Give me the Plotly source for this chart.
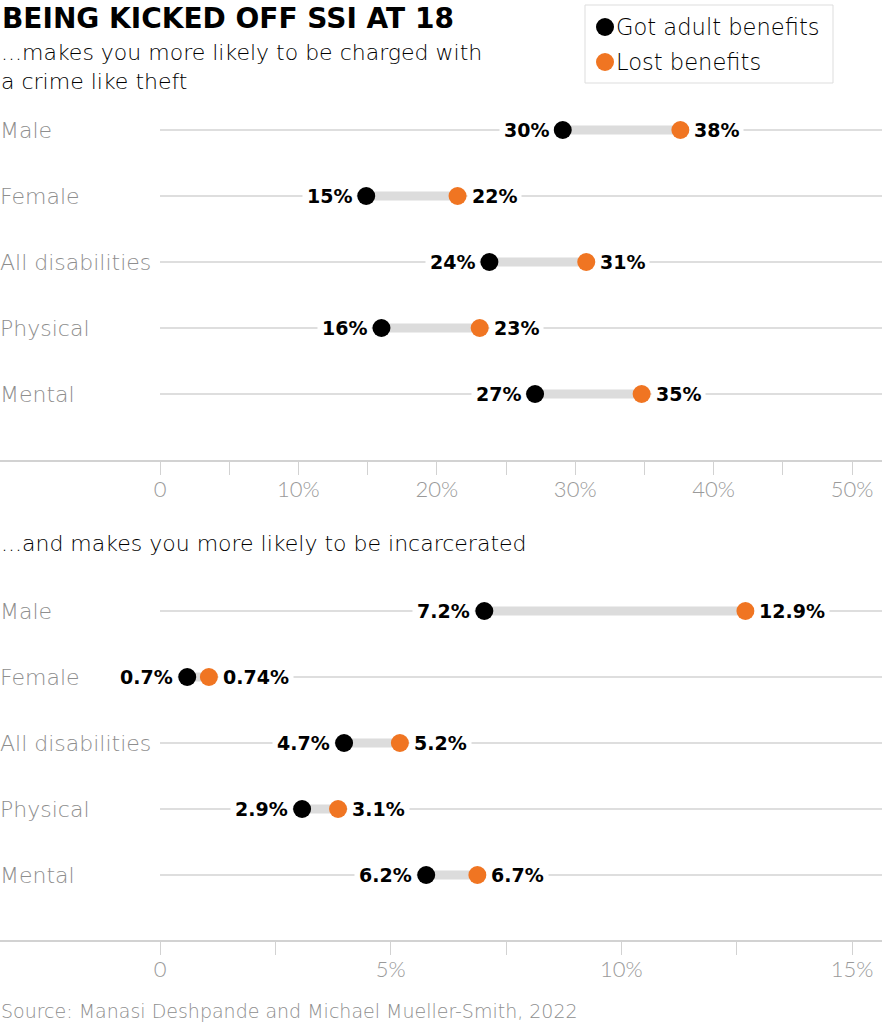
import plotly.graph_objects as go

# ---------------- data ----------------
categories = ["Male", "Female", "All disabilities", "Physical", "Mental"]

charged_got_pos = [29.1, 14.9, 23.8, 16.0, 27.1]
charged_lost_pos = [37.6, 21.5, 30.8, 23.1, 34.8]
charged_got_lbl = ["30%", "15%", "24%", "16%", "27%"]
charged_lost_lbl = ["38%", "22%", "31%", "23%", "35%"]

jail_got_pos = [7.03, 0.59, 3.99, 3.08, 5.77]
jail_lost_pos = [12.69, 1.06, 5.2, 3.86, 6.88]
jail_got_lbl = ["7.2%", "0.7%", "4.7%", "2.9%", "6.2%"]
jail_lost_lbl = ["12.9%", "0.74%", "5.2%", "3.1%", "6.7%"]

charged_tickvals = [0, 5, 10, 15, 20, 25, 30, 35, 40, 45, 50]
charged_ticktext = ["0", "", "10%", "", "20%", "", "30%", "", "40%", "", "50%"]
jail_tickvals = [0, 2.5, 5, 7.5, 10, 12.5, 15]
jail_ticktext = ["0", "", "5%", "", "10%", "", "15%"]

series_names = ["Got adult benefits", "Lost benefits"]

# ---------------- style ----------------
W, H = 882, 1024
ZERO_PX, MAX_PX = 160, 852
BLACK = "#000000"
ORANGE = "#F07522"
CONNECT = "#DCDCDC"
GRID = "#BDBDBD"
AXIS = "#D2D2D2"
GRAY_TXT = "#8E8E8E"
LIGHT = "DejaVu Sans"
LW = 200
ROW_SP = 66

def xrange_for(xmax):
    ppu = (MAX_PX - ZERO_PX) / xmax
    return [-ZERO_PX / ppu, xmax + (W - MAX_PX) / ppu]

def ypanel(first_row_px, top_px, bottom_px):
    dom = [1 - bottom_px / H, 1 - top_px / H]
    rng = [(bottom_px - first_row_px) / ROW_SP, (top_px - first_row_px) / ROW_SP]
    return dom, rng

fig = go.Figure()

panels = [
    dict(xa="x", ya="y", got=charged_got_pos, lost=charged_lost_pos,
         gl=charged_got_lbl, ll=charged_lost_lbl, xmax=50,
         tv=charged_tickvals, tt=charged_ticktext, first=130, top=98, bottom=460),
    dict(xa="x2", ya="y2", got=jail_got_pos, lost=jail_lost_pos,
         gl=jail_got_lbl, ll=jail_lost_lbl, xmax=15,
         tv=jail_tickvals, tt=jail_ticktext, first=611, top=579, bottom=940),
]

annotations = []
shapes = []
rows = list(range(len(categories)))
VAL_FONT = dict(family="DejaVu Sans", size=19, color=BLACK, weight=700)

for k, p in enumerate(panels):
    xr = xrange_for(p["xmax"])
    dom, yr = ypanel(p["first"], p["top"], p["bottom"])
    suffix = "" if k == 0 else "2"
    fig.layout["xaxis" + suffix] = dict(
        domain=[0, 1], range=xr, anchor="y" + suffix,
        tickvals=p["tv"], ticktext=p["tt"], ticks="outside", ticklen=13,
        tickwidth=1, tickcolor=AXIS, showline=True, linecolor=AXIS, linewidth=2,
        showgrid=False, zeroline=False, fixedrange=True, ticklabelstandoff=-4,
        tickfont=dict(family="Lato", size=22, color="#9A9A9A", weight=300),
    )
    fig.layout["yaxis" + suffix] = dict(
        domain=dom, range=yr, anchor="x" + suffix, visible=False,
        showgrid=False, zeroline=False, fixedrange=True,
    )
    # row gridlines
    for i in rows:
        shapes.append(dict(type="line", xref=p["xa"], yref=p["ya"], x0=0, x1=xr[1],
                           y0=i, y1=i, line=dict(color=GRID, width=1), layer="below"))
    # connectors
    cx, cy = [], []
    for i in rows:
        cx += [p["got"][i], p["lost"][i], None]
        cy += [i, i, None]
    fig.add_trace(go.Scatter(x=cx, y=cy, xaxis=p["xa"], yaxis=p["ya"], mode="lines",
                             line=dict(color=CONNECT, width=9), showlegend=False,
                             hoverinfo="skip"))
    fig.add_trace(go.Scatter(x=p["got"], y=rows, xaxis=p["xa"], yaxis=p["ya"],
                             mode="markers", marker=dict(color=BLACK, size=18),
                             name=series_names[0], showlegend=False))
    fig.add_trace(go.Scatter(x=p["lost"], y=rows, xaxis=p["xa"], yaxis=p["ya"],
                             mode="markers", marker=dict(color=ORANGE, size=18),
                             name=series_names[1], showlegend=False))
    for i in rows:
        annotations.append(dict(x=0, xref="paper", y=i, yref=p["ya"], text=categories[i],
                                xanchor="left", yanchor="middle", showarrow=False, xshift=-2,
                                font=dict(family=LIGHT, size=22, color=GRAY_TXT, weight=LW)))
        annotations.append(dict(x=p["got"][i], xref=p["xa"], y=i, yref=p["ya"],
                                text=p["gl"][i], xanchor="right", yanchor="middle",
                                xshift=-9, showarrow=False, bgcolor="white", borderpad=4,
                                font=VAL_FONT))
        annotations.append(dict(x=p["lost"][i], xref=p["xa"], y=i, yref=p["ya"],
                                text=p["ll"][i], xanchor="left", yanchor="middle",
                                xshift=9, showarrow=False, bgcolor="white", borderpad=4,
                                font=VAL_FONT))

# ---------------- legend (manual) ----------------
fig.layout["xaxis3"] = dict(domain=[0, 1], range=[0, W], visible=False, anchor="y3", fixedrange=True)
fig.layout["yaxis3"] = dict(domain=[0, 1], range=[H, 0], visible=False, anchor="x3", fixedrange=True)
leg_colors = [BLACK, ORANGE]
for j, nm in enumerate(series_names):
    yy = 27 + 35 * j
    fig.add_trace(go.Scatter(x=[605], y=[yy], xaxis="x3", yaxis="y3", mode="markers",
                             marker=dict(color=leg_colors[j], size=18), showlegend=False,
                             hoverinfo="skip"))
    annotations.append(dict(x=614, y=yy, xref="x3", yref="y3", text=nm, xanchor="left",
                            yanchor="middle", showarrow=False,
                            font=dict(family=LIGHT, size=22.6, color=BLACK, weight=LW)))
shapes.append(dict(type="rect", xref="x3", yref="y3", x0=585, x1=833, y0=5, y1=83,
                   line=dict(color="#DDDDDD", width=1), layer="below"))

# ---------------- titles ----------------
annotations.append(dict(x=0, y=18, xref="x3", yref="y3", text="BEING KICKED OFF SSI AT 18",
                        xanchor="left", yanchor="middle", showarrow=False,
                        font=dict(family="DejaVu Sans", size=28, color=BLACK, weight=700)))
annotations.append(dict(x=0, y=67, xref="x3", yref="y3", xshift=-1,
                        text="...makes you more likely to be charged with<br>a crime like theft",
                        xanchor="left", yanchor="middle", align="left", showarrow=False,
                        font=dict(family=LIGHT, size=22, color=BLACK, weight=LW)))
annotations.append(dict(x=0, y=543, xref="x3", yref="y3", xshift=-1,
                        text="...and makes you more likely to be incarcerated",
                        xanchor="left", yanchor="middle", showarrow=False,
                        font=dict(family=LIGHT, size=22, color=BLACK, weight=LW)))
annotations.append(dict(x=0, y=1011, xref="x3", yref="y3", xshift=-1,
                        text="Source: Manasi Deshpande and Michael Mueller-Smith, 2022",
                        xanchor="left", yanchor="middle", showarrow=False,
                        font=dict(family=LIGHT, size=19, color=GRAY_TXT, weight=LW)))

fig.update_layout(width=W, height=H, margin=dict(l=0, r=0, t=0, b=0),
                  paper_bgcolor="white", plot_bgcolor="rgba(0,0,0,0)",
                  annotations=annotations, shapes=shapes, showlegend=False)

fig.write_html("out.html", config={"displayModeBar": False},
               post_script="document.body.style.margin='0';")
